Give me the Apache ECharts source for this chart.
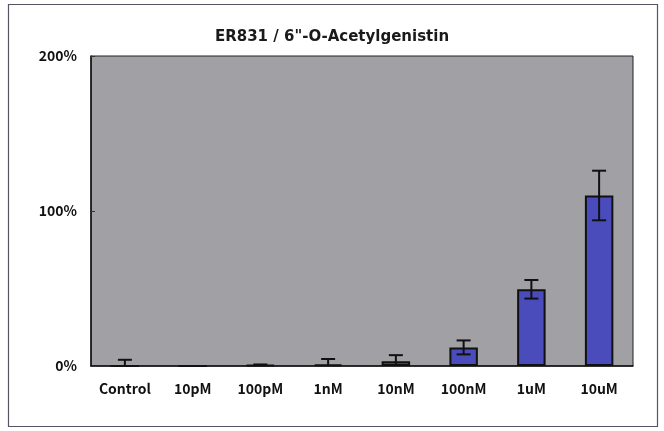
<!DOCTYPE html>
<html><head><meta charset="utf-8">
<script src="https://cdn.jsdelivr.net/npm/echarts@6/dist/echarts.min.js"></script>
<style>html,body{margin:0;padding:0;background:#fff;}#c{width:664px;height:431px;}</style>
</head><body><div id="c"></div>
<script>
const categories = ['Control','10pM','100pM','1nM','10nM','100nM','1uM','10uM'];
const means = [0, 0, 0.5, 1, 3, 12, 49.5, 110];
const errors = [4, 0, 0.5, 3.5, 4, 4.5, 6, 16];
const yTicks = [0, 100, 200];

const chart = echarts.init(document.getElementById('c'), null, {renderer:'canvas'});
const font = '"Noto Sans CJK JP", "DejaVu Sans", sans-serif';
chart.setOption({
  backgroundColor: '#ffffff',
  animation: false,
  graphic: [{type:'rect', shape:{x:8.5,y:4.5,width:649,height:422}, style:{fill:'none', stroke:'#556', lineWidth:1.2}, z:-1}],
  title: {text:'ER831 / 6"-O-Acetylgenistin', left:'center', top:25,
    textStyle:{fontSize:15, fontWeight:'bold', color:'#1a1a1a', fontFamily:'"DejaVu Sans", sans-serif'}},
  grid: {left:91, right:31, top:56, bottom:65, show:true, backgroundColor:'#a0a0a5', borderColor:'#222', borderWidth:1},
  xAxis: {type:'category', data:categories,
    axisLine:{lineStyle:{color:'#111', width:1.5}},
    axisTick:{inside:true, length:4, lineStyle:{color:'#333'}},
    axisLabel:{margin:16, fontSize:14, fontWeight:'bold', color:'#111', fontFamily:font}},
  yAxis: {type:'value', min:yTicks[0], max:yTicks[yTicks.length-1], interval:100,
    splitLine:{show:false},
    axisLine:{show:true, lineStyle:{color:'#111', width:1.5}},
    axisTick:{show:true, inside:true, length:4, lineStyle:{color:'#333'}},
    axisLabel:{formatter:'{value}%', margin:14, fontSize:14, fontWeight:'bold', color:'#111', fontFamily:font}},
  series: [
    {type:'bar', data:means, barWidth:'42%',
      itemStyle:{color:'#4a4cbc', borderColor:'#111', borderWidth:2}},
    {type:'custom', z:10,
      data: means.map((m,i)=>[i, m-errors[i], m+errors[i]]),
      renderItem: function(params, api){
        const x = api.coord([api.value(0), 0])[0];
        const lo = api.coord([api.value(0), Math.max(0, api.value(1))])[1];
        const hi = api.coord([api.value(0), api.value(2)])[1];
        const w = 7;
        const st = {stroke:'#111', lineWidth:2};
        const ch = [
          {type:'line', shape:{x1:x,y1:lo,x2:x,y2:hi}, style:st},
          {type:'line', shape:{x1:x-w,y1:hi,x2:x+w,y2:hi}, style:st}
        ];
        if (api.value(1) > 0) ch.push({type:'line', shape:{x1:x-w,y1:lo,x2:x+w,y2:lo}, style:st});
        return {type:'group', children:ch};
      }}
  ]
});
</script></body></html>
